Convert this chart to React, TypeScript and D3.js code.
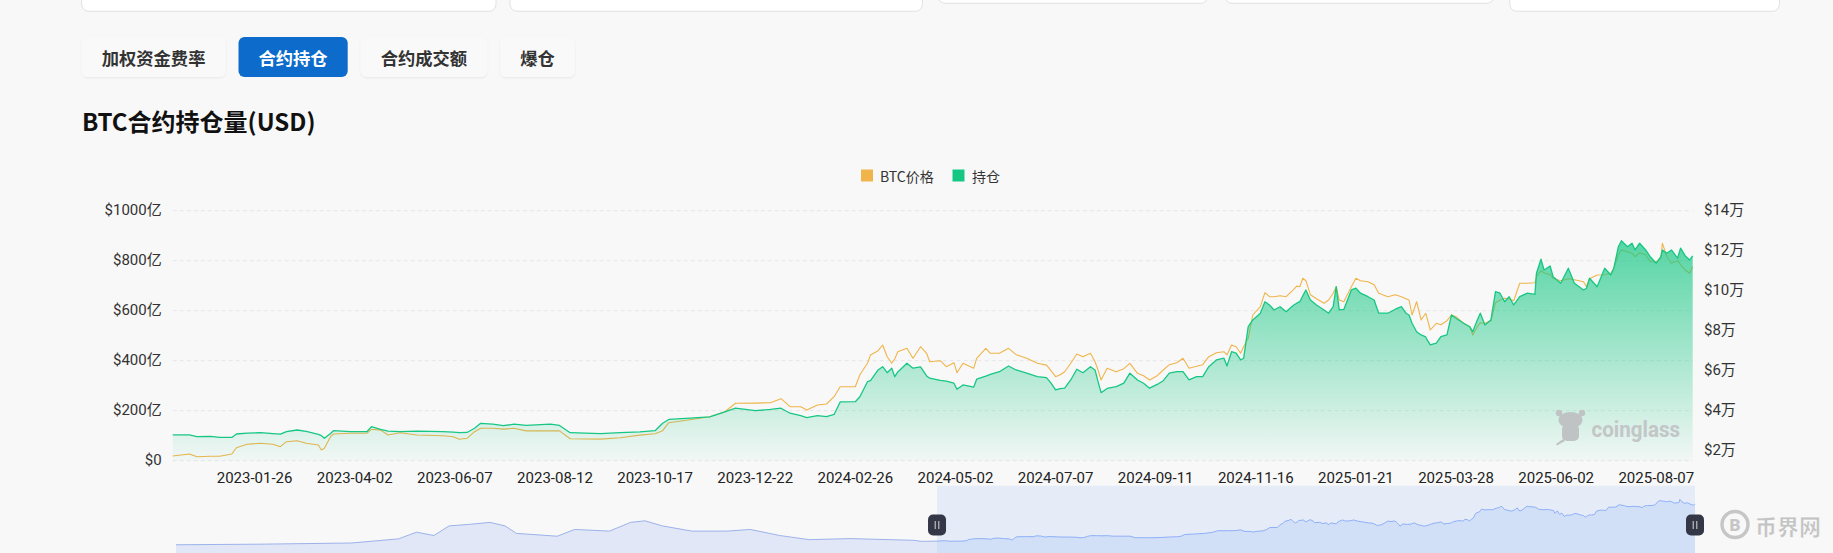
import React from 'react';
import * as d3 from 'd3';

// ---------- data ----------
const dates = [
'2022-12-03','2022-12-14','2022-12-19','2022-12-28','2023-01-03','2023-01-11','2023-01-14','2023-01-21','2023-01-30','2023-02-07',
'2023-02-12','2023-02-16','2023-02-23','2023-03-01','2023-03-09','2023-03-11','2023-03-13','2023-03-17','2023-03-19','2023-03-30',
'2023-04-10','2023-04-13','2023-04-19','2023-04-24','2023-05-02','2023-05-13','2023-05-30','2023-06-06','2023-06-10','2023-06-15',
'2023-06-20','2023-06-24','2023-07-02','2023-07-09','2023-07-16','2023-07-24','2023-08-09','2023-08-15','2023-08-22','2023-09-11',
'2023-09-24','2023-10-07','2023-10-17','2023-10-22','2023-10-26','2023-11-09','2023-11-22','2023-12-02','2023-12-09','2023-12-22',
'2024-01-01','2024-01-08','2024-01-14','2024-01-21','2024-01-25','2024-02-01','2024-02-07','2024-02-12','2024-02-16','2024-02-26',
'2024-02-29','2024-03-05','2024-03-07','2024-03-12','2024-03-15','2024-03-18','2024-03-21','2024-03-23','2024-03-25','2024-03-31',
'2024-04-04','2024-04-09','2024-04-13','2024-04-15','2024-04-22','2024-04-26','2024-05-01','2024-05-03','2024-05-07','2024-05-14',
'2024-05-16','2024-05-22','2024-05-25','2024-05-31','2024-06-06','2024-06-11','2024-06-18','2024-06-25','2024-07-01','2024-07-04',
'2024-07-07','2024-07-10','2024-07-13','2024-07-17','2024-07-21','2024-07-25','2024-07-30','2024-08-02','2024-08-04','2024-08-06',
'2024-08-10','2024-08-16','2024-08-21','2024-08-25','2024-08-30','2024-09-03','2024-09-07','2024-09-12','2024-09-16','2024-09-20',
'2024-09-25','2024-09-29','2024-10-03','2024-10-08','2024-10-12','2024-10-16','2024-10-21','2024-10-26','2024-10-28','2024-10-31',
'2024-11-03','2024-11-06','2024-11-08','2024-11-11','2024-11-14','2024-11-19','2024-11-22','2024-11-25','2024-11-28','2024-12-02',
'2024-12-06','2024-12-11','2024-12-13','2024-12-15','2024-12-17','2024-12-19','2024-12-22','2024-12-26','2024-12-31','2025-01-03',
'2025-01-06','2025-01-08','2025-01-10','2025-01-13','2025-01-18','2025-01-21','2025-01-24','2025-01-29','2025-02-02','2025-02-05',
'2025-02-11','2025-02-16','2025-02-20','2025-02-23','2025-02-25','2025-02-27','2025-03-02','2025-03-05','2025-03-08','2025-03-09',
'2025-03-11','2025-03-15','2025-03-18','2025-03-22','2025-03-25','2025-03-28','2025-04-02','2025-04-06','2025-04-08','2025-04-11',
'2025-04-13','2025-04-16','2025-04-20','2025-04-23','2025-04-26','2025-04-29','2025-05-02','2025-05-05','2025-05-09','2025-05-14',
'2025-05-19','2025-05-20','2025-05-23','2025-05-25','2025-05-29','2025-05-31','2025-06-05','2025-06-10','2025-06-14','2025-06-20',
'2025-06-22','2025-06-24','2025-06-29','2025-07-04','2025-07-08','2025-07-10','2025-07-13','2025-07-15','2025-07-19','2025-07-22',
'2025-07-24','2025-07-27','2025-07-31','2025-08-03','2025-08-07','2025-08-10','2025-08-11','2025-08-14','2025-08-17','2025-08-21',
'2025-08-23','2025-08-26','2025-08-29','2025-08-31'
];

// 持仓 (亿 USD)
const openInterest = [
103,103,96,97.5,93.5,93,106.8,110,112,108,
106,116,122.8,117,105,100,89.6,109,120,116,
116,136,125,118,116,118,116,114,112,113,
130,149.6,146,140,146,141,146,141,112,108,
112,115,120,150,165,170,175,195,210,200,
205,210,190,180,172,180,176,185,235,236,
256,316,320,363,376,352,370,336,355,390,
370,375,339,330,321,318,310,286,303,294,
326,338,345,356,379,363,350,336,332,310,
283,288,290,323,366,352,376,363,316,272,
289,296,310,350,323,310,290,305,320,350,
356,356,323,336,336,376,403,410,379,436,
430,403,410,536,563,590,636,623,603,616,
596,623,630,636,660,683,643,623,603,590,
616,696,603,605,683,690,670,656,643,590,
590,606,616,590,583,550,516,503,495,483,
463,470,496,503,583,570,550,536,516,563,
590,543,563,676,670,636,656,623,656,670,
665,750,806,763,779,736,710,770,710,683,
690,730,696,770,743,770,856,880,856,870,
843,870,843,816,790,816,843,830,843,810,
850,820,803,819
];

// BTC价格 (USD)
const btcPrice = [
17350,18350,17000,17200,17200,18350,21500,23200,23700,23200,
22000,24500,25000,23700,22850,20350,21200,27000,28350,28700,
28700,30700,30300,27850,29000,27850,27500,27000,25700,26200,
29500,31200,31200,30800,31200,29900,29900,29900,26000,25800,
26500,27800,28500,30000,34000,35500,37000,39500,43700,43800,
44000,46000,42000,42000,40350,42850,43350,47000,52000,52000,
58000,63700,67850,70000,72850,67000,63700,66000,69500,71200,
66200,72000,68700,64500,65000,62000,64000,59000,63700,61200,
66200,71200,68700,68700,71200,68000,66200,63700,62800,60000,
57000,58000,59500,63700,68350,67000,68700,64500,60350,55350,
61200,59500,61000,63700,58700,57500,55350,57500,60350,63000,
64000,66200,61200,62200,63000,67000,69000,69500,67900,72850,
72000,68700,72000,76200,87850,92000,99000,97000,97000,97500,
97000,100700,102300,102000,106200,105000,98000,96000,93700,95350,
98700,102000,95350,94500,102000,106200,105000,104500,103000,98700,
97000,98000,97000,96000,95350,87850,94500,85350,88700,86000,
80350,83700,83000,85000,87850,87000,83700,82000,77850,82000,
84000,83700,85000,94000,95350,96200,96000,95000,103700,103700,
104000,107000,110000,109000,108000,106200,105000,106000,105500,104500,
102000,106000,107850,108000,108700,111200,118000,120350,119500,118700,
117000,119000,118000,114500,114500,116200,123700,117000,113700,115000,
113000,110350,108700,112000
];

// longer price history shown in the zoom slider (before the visible window)
const historyDates = ['2020-03-02','2020-06-21','2020-10-20','2020-12-21','2021-01-14','2021-02-06','2021-02-26','2021-03-25','2021-04-21','2021-05-11','2021-05-26','2021-07-19','2021-08-11','2021-09-26','2021-10-24','2021-11-12','2021-12-05','2022-01-13','2022-03-01','2022-03-31','2022-05-09','2022-06-17','2022-08-10','2022-11-03','2022-11-12'];
const historyPrice = [8000,9500,12500,23000,40000,31600,56000,60000,65000,56000,37000,29800,47000,42800,65000,69000,56000,42800,42800,47000,31600,21000,23700,19300,16700];

const tickLabels = ['2023-01-26','2023-04-02','2023-06-07','2023-08-12','2023-10-17','2023-12-22','2024-02-26','2024-05-02','2024-07-07','2024-09-11','2024-11-16','2025-01-21','2025-03-28','2025-06-02','2025-08-07'];
const leftTicks = [0, 200, 400, 600, 800, 1000];
const rightTicks = [20000, 40000, 60000, 80000, 100000, 120000, 140000];
const tabs = ['加权资金费率', '合约持仓', '合约成交额', '爆仓'];
const activeTab = 1;
const legendItems = ['BTC价格', '持仓'];
const chartTitle = 'BTC合约持仓量(USD)';

// ---------- styles ----------
const BG = '#f8f8f8';
const PRICE_C = '#f0b44a';
const OI_C = '#16c784';
const CJK = "'Noto Sans CJK SC', 'Noto Sans', sans-serif";
const NUM = "Roboto, 'Noto Sans CJK SC', sans-serif";

export default function App() {
  const parse = d3.utcParse('%Y-%m-%d');
  const left = 172.7, right = 1692.7, top = 210.7, bottom = 460.7;
  const x = d3.scaleUtc().domain([parse('2022-12-03')!, parse('2025-08-31')!]).range([left, right]);
  const yL = d3.scaleLinear().domain([0, 1000]).range([bottom, top]);
  const yR = d3.scaleLinear().domain([15000, 140000]).range([bottom, top]);

  const pts = dates.map((d, i) => ({ t: parse(d)!, oi: openInterest[i], p: btcPrice[i] }));
  const priceLine = d3.line<any>().x(d => x(d.t)).y(d => yR(d.p))(pts) || '';
  const oiLine = d3.line<any>().x(d => x(d.t)).y(d => yL(d.oi))(pts) || '';
  const oiArea = d3.area<any>().x(d => x(d.t)).y0(yL(0)).y1(d => yL(d.oi))(pts) || '';
  const oiMaxY = yL(d3.max(openInterest)!);

  // slider
  const sTop = 485.7, sH = 72.7, sLeft = 176, sRight = 1695;
  const sPts = [
    ...historyDates.map((d, i) => ({ t: parse(d)!, v: historyPrice[i] })),
    ...dates.map((d, i) => ({ t: parse(d)!, v: btcPrice[i] })),
  ];
  const sx = d3.scaleUtc().domain([sPts[0].t, sPts[sPts.length - 1].t]).range([sLeft, sRight]);
  const [vMin, vMax] = d3.extent(sPts, d => d.v) as [number, number];
  const pad = (vMax - vMin) * 0.3;
  const sy = d3.scaleLinear().domain([vMin - pad, vMax + pad]).range([sTop + sH, sTop]);
  const sLine = d3.line<any>().x(d => sx(d.t)).y(d => sy(d.v))(sPts) || '';
  const sArea = d3.area<any>().x(d => sx(d.t)).y0(sTop + sH).y1(d => sy(d.v))(sPts) || '';
  const h0 = sx(parse(dates[0])!);
  const h1 = sx(parse(dates[dates.length - 1])!);

  // tabs layout
  const tabFont = 17.3;
  let tx = 81.7;
  const tabBoxes = tabs.map((t) => {
    const w = t.length * tabFont + 40;
    const b = { t, x: tx, w };
    tx += w + 13;
    return b;
  });

  const cards = [
    { x: 81.7, w: 414.3, b: 11.3 },
    { x: 510, w: 412.4, b: 11.3 },
    { x: 938, w: 269.8, b: 3.3 },
    { x: 1225, w: 269, b: 3.3 },
    { x: 1509.8, w: 269.7, b: 11.3 },
  ];

  return (
    <svg width={1833} height={553} style={{ position: 'fixed', left: 0, top: 0, background: BG }}>
      <defs>
        <linearGradient id="oiGrad" gradientUnits="userSpaceOnUse" x1="0" y1={oiMaxY} x2="0" y2={bottom}>
          <stop offset="0" stopColor="rgb(22,199,132)" stopOpacity={0.72} />
          <stop offset="1" stopColor="rgb(22,199,132)" stopOpacity={0.03} />
        </linearGradient>
        <filter id="softShadow" x="-5%" y="-20%" width="110%" height="150%">
          <feDropShadow dx="0" dy="1" stdDeviation="1.2" floodColor="#000" floodOpacity="0.07" />
        </filter>
        <clipPath id="selClip"><rect x={h0} y={sTop} width={h1 - h0} height={sH + 10} /></clipPath>
        <clipPath id="unselClip"><rect x={0} y={sTop} width={h0} height={sH + 10} /></clipPath>
      </defs>
      <rect x={0} y={0} width={1833} height={553} fill={BG} />

      {/* top cards */}
      {cards.map((c, i) => (
        <rect key={i} x={c.x} y={-20} width={c.w} height={c.b + 20} rx={7} fill="#fff" stroke="#e2e2e2" strokeWidth={1} />
      ))}

      {/* tabs */}
      {tabBoxes.map((b, i) => (
        <g key={b.t}>
          <rect x={b.x} y={37} width={b.w} height={40} rx={6}
            fill={i === activeTab ? '#0c6bcb' : '#f9f9f9'}
            filter={i === activeTab ? undefined : 'url(#softShadow)'} />
          <text x={b.x + b.w / 2} y={57.5} textAnchor="middle" dominantBaseline="central"
            fontFamily={CJK} fontWeight={700} fontSize={tabFont}
            fill={i === activeTab ? '#fff' : '#333'}>{b.t}</text>
        </g>
      ))}

      {/* title */}
      <text x={82} y={120.5} dominantBaseline="central" fontFamily={CJK} fontWeight={700} fontSize={24} fill="#111">{chartTitle}</text>

      {/* legend */}
      <rect x={861} y={169.5} width={12} height={12} fill={PRICE_C} />
      <text x={880} y={175.5} dominantBaseline="central" fontFamily={CJK} fontSize={14} fill="#333">{legendItems[0]}</text>
      <rect x={952.5} y={169.5} width={12} height={12} fill={OI_C} />
      <text x={972} y={175.5} dominantBaseline="central" fontFamily={CJK} fontSize={14} fill="#333">{legendItems[1]}</text>

      {/* grid */}
      {leftTicks.map(v => (
        <line key={v} x1={left} x2={right} y1={yL(v)} y2={yL(v)} stroke="#e6e6e6" strokeDasharray="4 3" />
      ))}

      {/* series */}
      <path d={priceLine} fill="none" stroke={PRICE_C} strokeWidth={1.1} strokeLinejoin="round" />
      <path d={oiArea} fill="url(#oiGrad)" />
      <path d={oiLine} fill="none" stroke={OI_C} strokeWidth={1.3} strokeLinejoin="round" />

      {/* left axis labels */}
      {leftTicks.map(v => (
        <text key={v} x={161.7} y={yL(v) - 1.2} textAnchor="end" dominantBaseline="central"
          fontFamily={NUM} fontSize={15} fill="#333">{v === 0 ? '$0' : `$${v}亿`}</text>
      ))}
      {/* right axis labels */}
      {rightTicks.map(v => (
        <text key={v} x={1704} y={yR(v) - 1.2} dominantBaseline="central"
          fontFamily={NUM} fontSize={15} fill="#333">{`$${v / 10000}万`}</text>
      ))}
      {/* x axis labels */}
      {tickLabels.map(d => (
        <text key={d} x={x(parse(d)!)} y={478.3} textAnchor="middle" dominantBaseline="central"
          fontFamily={NUM} fontSize={15} fill="#222">{d}</text>
      ))}

      {/* coinglass watermark */}
      <g fill="#bfc3c3">
        <ellipse cx={1570.5} cy={420} rx={12} ry={8} />
        <circle cx={1559} cy={413} r={3.2} />
        <circle cx={1582} cy={413} r={3.2} />
        <rect x={1562} y={424} width={17} height={17} rx={5} />
        <path d="M1563,439 L1556,444 L1557,445.5 L1565,441 Z" />
      </g>
      <text x={1591.5} y={436.5} fontFamily="Roboto, sans-serif" fontWeight={700} fontSize={22}
        textLength={88.5} lengthAdjust="spacingAndGlyphs" fill="#c3c6c6">coinglass</text>

      {/* slider */}
      <g clipPath="url(#unselClip)">
        <path d={sArea} fill="#e1e7f7" />
        <path d={sLine} fill="none" stroke="#9db2ea" strokeWidth={1} />
      </g>
      <rect x={h0} y={sTop} width={h1 - h0} height={sH + 10} fill="rgba(135,175,247,0.17)" />
      <g clipPath="url(#selClip)">
        <path d={sArea} fill="rgba(143,176,247,0.22)" />
        <path d={sLine} fill="none" stroke="#8fb0f7" strokeWidth={1} />
      </g>
      {[h0, h1].map((hx, i) => (
        <g key={i}>
          <rect x={hx - 9} y={514.5} width={18} height={21} rx={5} fill="#343746" />
          <line x1={hx - 1.8} x2={hx - 1.8} y1={521} y2={529} stroke="#d8d8d8" strokeWidth={1} />
          <line x1={hx + 1.8} x2={hx + 1.8} y1={521} y2={529} stroke="#d8d8d8" strokeWidth={1} />
        </g>
      ))}

      {/* bottom-right site watermark */}
      <g>
        <circle cx={1735} cy={524.5} r={13} fill="none" stroke="#c6c6c6" strokeWidth={3.5} />
        <text x={1735} y={525} textAnchor="middle" dominantBaseline="central" fontFamily="Roboto, sans-serif"
          fontWeight={900} fontSize={17} fill="#c6c6c6">B</text>
        <text x={1755} y={525} dominantBaseline="central" fontFamily={CJK} fontWeight={900} fontSize={22}
          fill="#c4c4c4" stroke="#ffffff" strokeWidth={0.6}>币界网</text>
      </g>
    </svg>
  );
}
